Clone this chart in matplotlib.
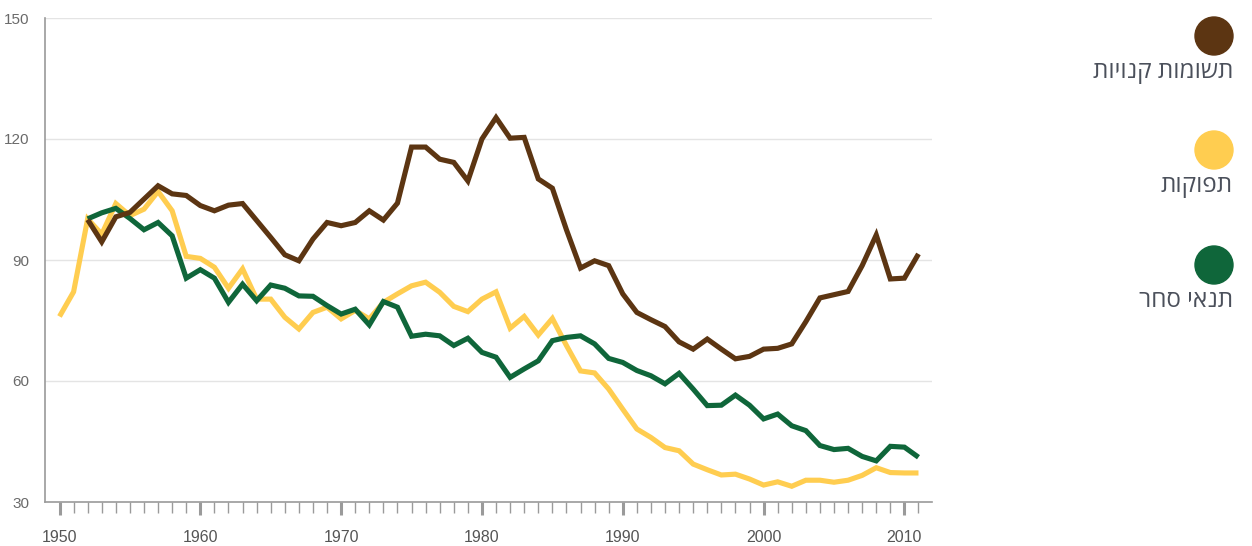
import matplotlib
matplotlib.use("Agg")
import matplotlib.pyplot as plt
from matplotlib.patches import Ellipse

# data, one value per year (1950-2011)
years = list(range(1950, 2012))

purchased_inputs = [None, None,
    100.0, 94.5, 100.7, 101.8, 105.1, 108.4, 106.4, 106.0, 103.5, 102.2,
    103.6, 104.0, 99.8, 95.6, 91.3, 89.8, 95.2, 99.3, 98.5, 99.3,
    102.2, 99.9, 104.1, 118.0, 118.0, 115.0, 114.2, 109.6, 120.0, 125.3,
    120.2, 120.4, 110.1, 107.8, 97.5, 88.0, 89.8, 88.6, 81.6, 77.0,
    75.2, 73.5, 69.7, 67.9, 70.4, 67.9, 65.5, 66.1, 67.9, 68.1,
    69.2, 74.7, 80.6, 81.4, 82.2, 88.6, 96.2, 85.3, 85.5, 91.5]

outputs = [
    76.0, 82.1, 100.2, 96.4, 104.0, 101.0, 102.6, 107.0, 102.2, 90.9,
    90.4, 88.2, 83.0, 87.8, 80.3, 80.3, 75.8, 72.9, 77.0, 78.3,
    75.4, 77.5, 75.4, 79.5, 81.6, 83.6, 84.5, 82.0, 78.5, 77.2,
    80.3, 82.1, 73.1, 76.0, 71.4, 75.5, 68.8, 62.5, 62.0, 58.0,
    53.0, 48.1, 46.0, 43.5, 42.7, 39.4, 38.0, 36.7, 36.9, 35.7,
    34.2, 35.0, 33.9, 35.4, 35.4, 34.9, 35.4, 36.6, 38.5, 37.3,
    37.2, 37.2]

terms_of_trade = [None, None,
    100.2, 101.7, 102.8, 100.3, 97.5, 99.3, 96.0, 85.5, 87.6, 85.5,
    79.5, 84.0, 79.9, 83.8, 83.0, 81.1, 81.0, 78.7, 76.6, 77.8,
    73.9, 79.7, 78.3, 71.1, 71.6, 71.2, 68.8, 70.6, 67.1, 65.9,
    60.9, 63.0, 65.0, 70.0, 70.8, 71.2, 69.2, 65.6, 64.6, 62.6,
    61.3, 59.3, 61.9, 58.0, 53.9, 54.0, 56.5, 54.0, 50.6, 51.8,
    48.9, 47.7, 44.0, 43.0, 43.3, 41.3, 40.2, 43.8, 43.6, 41.1]

series_names = ["תשומות קנויות", "תפוקות", "תנאי סחר"]
series_colors = ["#5C3512", "#FFCD50", "#0F663A"]

y_ticks = [30, 60, 90, 120, 150]
x_labels = [1950, 1960, 1970, 1980, 1990, 2000, 2010]


def rtl(s):
    # matplotlib has no bidi support, so flip the Hebrew for display
    return s[::-1]


def clean(vals):
    return [float("nan") if v is None else v for v in vals]


fig = plt.figure(figsize=(12.52, 5.46), dpi=100)
ax = fig.add_axes([45 / 1252, 44 / 546, 887 / 1252, 484 / 546])

ax.set_ylim(30, 150)
ax.set_xlim(1948.97, 2011.96)

for v in y_ticks[1:]:
    ax.axhline(v, color="#e4e4e4", lw=1, zorder=1)

all_series = [purchased_inputs, outputs, terms_of_trade]
for idx in [1, 2, 0]:
    ax.plot(years, clean(all_series[idx]), color=series_colors[idx], lw=3.7,
            solid_joinstyle="miter", solid_capstyle="butt", zorder=3)

for side in ["top", "right"]:
    ax.spines[side].set_visible(False)
ax.spines["left"].set_color("#9a9a9a")
ax.spines["bottom"].set_color("#9a9a9a")
ax.spines["left"].set_linewidth(1.2)
ax.spines["bottom"].set_linewidth(1.2)

tick_font = ["Liberation Sans", "DejaVu Sans"]

ax.set_yticks(y_ticks)
ax.set_yticklabels([str(v) for v in y_ticks], family=tick_font, fontsize=11,
                   color="#6a6a6a")
ax.tick_params(axis="y", length=0, pad=11)

ax.set_xticks(x_labels)
ax.set_xticklabels([str(v) for v in x_labels], family=tick_font, fontsize=11.5,
                   color="#555555")
ax.set_xticks(years, minor=True)
ax.tick_params(axis="x", which="major", length=9, width=2.2, color="#9a9a9a",
               direction="out", pad=11)
ax.tick_params(axis="x", which="minor", length=8, width=1, color="#9a9a9a",
               direction="out")

# legend on the right: dot above a right-aligned label
legend_font = ["Open Sans", "DejaVu Sans"]
dot_y = [36, 150, 265]
for name, col, py in zip(series_names, series_colors, dot_y):
    cx, cy = 1214 / 1252, 1 - py / 546
    fig.add_artist(Ellipse((cx, cy), 38 / 1252, 38 / 546, color=col,
                           transform=fig.transFigure))
    fig.text(1233 / 1252, 1 - (py + 36) / 546, rtl(name), ha="right",
             va="center", fontsize=17.5, color="#4b505b", family=legend_font)

fig.savefig("out.png", dpi=100)
